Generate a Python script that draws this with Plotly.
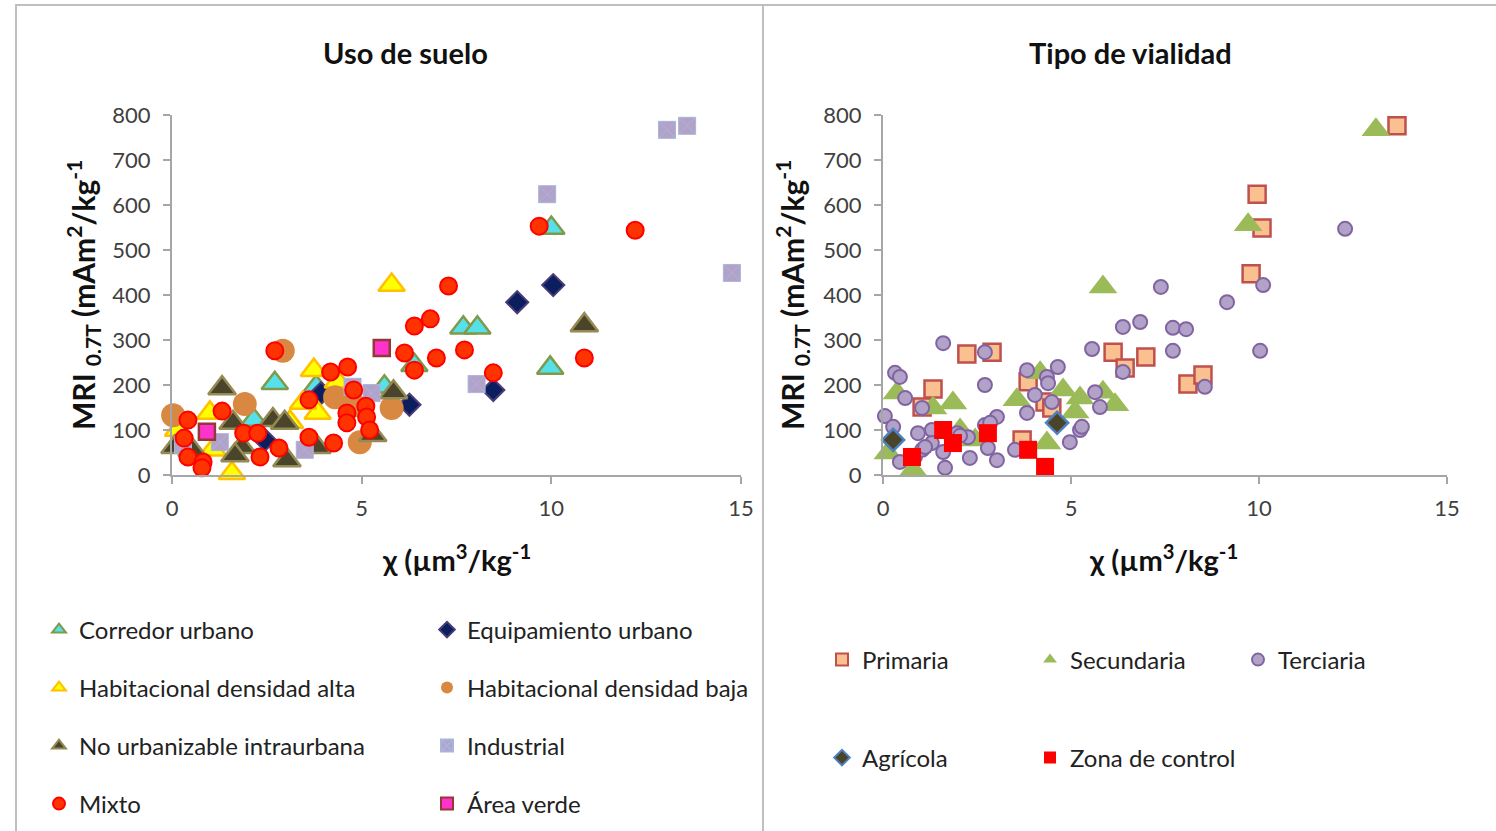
import plotly.graph_objects as go

# ---------------- Data: Uso de suelo ----------------
corredor_x = [10.0, 7.68, 8.05, 9.97, 2.71, 6.39, 5.6, 3.8, 2.16]
corredor_y = [549, 327, 327, 238, 204, 244, 196, 196, 122]

equip_x = [9.1, 10.05, 8.47, 6.26, 3.93, 2.45]
equip_y = [384, 422, 189, 156, 182, 78]

hab_alta_x = [5.79, 3.74, 3.84, 3.11, 3.45, 1.58, 1.0, 1.08, 0.16, 4.37]
hab_alta_y = [422, 233, 138, 118, 160, 4, 138, 56, 100, 207]

hab_baja_x = [0.03, 2.92, 1.92, 4.3, 4.95, 5.79, 4.8]
hab_baja_y = [133, 276, 158, 173, 73, 149, 155]

no_urb_x = [10.87, 5.84, 1.32, 2.66, 3.03, 3.82, 5.29, 1.61, 2.97, 1.84, 1.66, 0.08, 0.53]
no_urb_y = [333, 184, 193, 122, 33, 62, 89, 116, 116, 62, 44, 62, 56]

industrial_x = [13.05, 13.58, 9.89, 14.76, 8.03, 5.26, 4.76, 3.5, 1.26, 0.29]
industrial_y = [767, 776, 624, 449, 202, 182, 196, 56, 73, 67]

mixto_x = [9.68, 12.21, 7.29, 6.81, 6.39, 10.87, 6.97, 7.71, 6.13, 6.39, 8.47,
           4.63, 4.18, 4.79, 3.61, 5.11, 4.61, 4.61, 5.13, 5.21, 3.61, 4.26,
           2.71, 1.32, 0.42, 0.32, 1.89, 2.26, 0.42, 0.82, 0.79, 2.32, 2.82]
mixto_y = [553, 544, 420, 347, 331, 260, 260, 278, 271, 233, 227,
           240, 229, 189, 167, 153, 138, 116, 129, 100, 84, 71,
           276, 142, 122, 82, 93, 93, 40, 29, 16, 40, 60]

area_x = [5.53, 0.92]
area_y = [282, 96]

# ---------------- Data: Tipo de vialidad ----------------
primaria_x = [13.67, 9.95, 10.08, 9.79, 8.11, 8.51, 6.99, 6.12, 6.44, 2.23, 2.9,
              1.33, 1.04, 3.86, 4.31, 4.49, 3.7]
primaria_y = [776, 624, 549, 447, 202, 222, 262, 273, 238, 269, 273,
              191, 151, 207, 162, 149, 78]

secundaria_x = [13.11, 9.71, 5.85, 0.37, 0.8, 1.86, 1.33, 3.56, 4.18, 4.79, 5.24,
                5.85, 6.17, 4.36, 5.11, 2.45, 2.05, 0.13]
secundaria_y = [767, 556, 418, 182, 11, 160, 149, 167, 227, 189, 171,
                184, 156, 71, 140, 78, 100, 49]

terciaria_x = [12.29, 7.39, 10.11, 9.15, 7.71, 8.06, 7.71, 10.03, 8.56, 6.38, 6.84,
               5.56, 6.38, 1.6, 2.71, 2.71, 0.32, 0.45, 0.59, 1.04, 0.05, 0.27,
               0.93, 1.3, 1.97, 2.26, 2.71, 3.03, 1.65, 3.03, 2.31, 1.6, 0.45,
               0.85, 1.04, 1.3, 2.79, 3.83, 3.83, 4.04, 4.36, 4.39, 4.65, 4.49,
               3.51, 4.97, 5.24, 5.29, 5.64, 5.77, 2.85, 1.12, 2.05]
terciaria_y = [547, 418, 422, 384, 327, 324, 276, 276, 196, 329, 340,
               280, 229, 293, 273, 200, 227, 218, 171, 149, 131, 107,
               93, 100, 93, 84, 111, 129, 16, 33, 38, 51, 29,
               40, 56, 71, 60, 233, 138, 178, 218, 204, 240, 162,
               56, 73, 100, 107, 184, 151, 116, 62, 87]

agricola_x = [0.27, 4.63]
agricola_y = [78, 116]

zona_x = [0.77, 1.6, 1.86, 2.79, 3.86, 4.31]
zona_y = [40, 100, 71, 93, 56, 18]

W, H = 1496, 831
FONT = "Lato"

def px_x(p):
    return p / W

def px_y(p):
    return 1 - p / H

fig = go.Figure()

def add(x, y, name, symbol, size, fill, line_color, line_w, xa, ya, legend):
    fig.add_trace(go.Scatter(
        x=x, y=y, mode="markers", name=name, xaxis=xa, yaxis=ya,
        legend=legend, cliponaxis=False,
        marker=dict(symbol=symbol, size=size, color=fill,
                    line=dict(color=line_color, width=line_w)),
    ))

# left panel (draw order = legend order)
add(corredor_x, corredor_y, "Corredor urbano", "triangle-up", 23, "#55E0EA", "#7F9A48", 2.5, "x", "y", "legend")
add(equip_x, equip_y, "Equipamiento urbano", "diamond", 17, "#0B1F5E", "#4A3C78", 2, "x", "y", "legend")
add(hab_alta_x, hab_alta_y, "Habitacional densidad alta", "triangle-up", 23, "#FFFF00", "#FFC000", 2.5, "x", "y", "legend2")
add(hab_baja_x, hab_baja_y, "Habitacional densidad baja", "circle", 24, "#D98841", "#D98841", 0, "x", "y", "legend2")
add(no_urb_x, no_urb_y, "No urbanizable intraurbana", "triangle-up", 24, "#4A452A", "#948A54", 2.5, "x", "y", "legend3")
add(industrial_x, industrial_y, "Industrial", "square-x", 17, "#B3A2C7", "#A9B4DD", 1, "x", "y", "legend3")
add(mixto_x, mixto_y, "Mixto", "circle", 17, "#FF3300", "#FF0000", 2, "x", "y", "legend4")
add(area_x, area_y, "Área verde", "square", 16, "#FF33CC", "#953735", 2.5, "x", "y", "legend4")

# right panel
add(primaria_x, primaria_y, "Primaria", "square", 17, "#FAC090", "#C0504D", 2.5, "x2", "y2", "legend5")
add(secundaria_x, secundaria_y, "Secundaria", "triangle-up", 25, "#9BBB59", "#9BBB59", 0, "x2", "y2", "legend5")
add(terciaria_x, terciaria_y, "Terciaria", "circle", 14, "#B3A2C7", "#8064A2", 2, "x2", "y2", "legend5")
add(agricola_x, agricola_y, "Agrícola", "diamond", 17, "#4A452A", "#4F81BD", 2.5, "x2", "y2", "legend6")
add(zona_x, zona_y, "Zona de control", "square", 18, "#FF0000", "#FF0000", 0, "x2", "y2", "legend6")

axis_common = dict(
    showgrid=False, zeroline=False, showline=True, linecolor="#A6A6A6", linewidth=2,
    ticks="outside", ticklen=7, tickcolor="#A6A6A6", tickwidth=2, automargin=False,
    tickfont=dict(family=FONT, size=22, color="#404040"), fixedrange=True,
)

y_dom = [px_y(475), px_y(115)]
fig.update_layout(
    width=W, height=H, margin=dict(l=0, r=0, t=0, b=0, pad=0, autoexpand=False),
    paper_bgcolor="white", plot_bgcolor="rgba(0,0,0,0)",
    font=dict(family=FONT, color="#222222"),
    xaxis=dict(domain=[px_x(172), px_x(741)], range=[0, 15], tickvals=[0, 5, 10, 15], anchor="y",
               ticklabelstandoff=6, **axis_common),
    yaxis=dict(domain=y_dom, range=[0, 800], dtick=100, anchor="x", ticklabelstandoff=8, **axis_common),
    xaxis2=dict(domain=[px_x(883), px_x(1447)], range=[0, 15], tickvals=[0, 5, 10, 15], anchor="y2",
                ticklabelstandoff=6, **axis_common),
    yaxis2=dict(domain=y_dom, range=[0, 800], dtick=100, anchor="x2", ticklabelstandoff=8, **axis_common),
)

leg_font = dict(family=FONT, size=24, color="#222222")
def legend_cfg(xp, yp, ew):
    return dict(orientation="h", x=px_x(xp), y=px_y(yp), xanchor="left", yanchor="middle",
                entrywidth=ew, entrywidthmode="pixels", font=leg_font,
                itemsizing="constant", bgcolor="rgba(0,0,0,0)", itemclick=False, itemdoubleclick=False)

fig.update_layout(
    legend=legend_cfg(39, 630, 343),
    legend2=legend_cfg(39, 688, 343),
    legend3=legend_cfg(39, 746, 343),
    legend4=legend_cfg(39, 804, 343),
    legend5=legend_cfg(822, 660, 163),
    legend6=legend_cfg(822, 758, 163),
)

def txt(text, cx, cy, size, angle=0):
    return dict(text=text, x=px_x(cx), y=px_y(cy), xref="paper", yref="paper",
                xanchor="center", yanchor="middle", textangle=angle, showarrow=False,
                font=dict(family=FONT, size=size, color="#111111"))

ytitle = "<b>MRI <sub>0.7T</sub> (mAm<sup>2</sup>/kg<sup>-1</sup></b>"
xtitle = "<b>χ (µm<sup>3</sup>/kg<sup>-1</sup></b>"
ann = [
    txt("<b>Uso de suelo</b>", 405, 53, 29),
    txt("<b>Tipo de vialidad</b>", 1130, 53, 29),
    txt(ytitle, 83, 295, 30, -90),
    txt(ytitle, 792, 295, 30, -90),
    txt(xtitle, 456, 558, 29),
    txt(xtitle, 1163, 558, 29),
]
fig.update_layout(annotations=ann)

frame = dict(type="rect", xref="paper", yref="paper", line=dict(color="#BFBFBF", width=2), layer="below")
fig.update_layout(shapes=[
    dict(x0=px_x(16), x1=px_x(763), y0=px_y(H + 5), y1=px_y(5), **frame),
    dict(x0=px_x(763), x1=px_x(W + 5), y0=px_y(H + 5), y1=px_y(5), **frame),
])

fig.write_html(
    "out.html",
    config={"displayModeBar": False},
    post_script="document.body.style.margin='0';document.body.style.overflow='hidden';"
                "document.documentElement.style.overflow='hidden';",
)
